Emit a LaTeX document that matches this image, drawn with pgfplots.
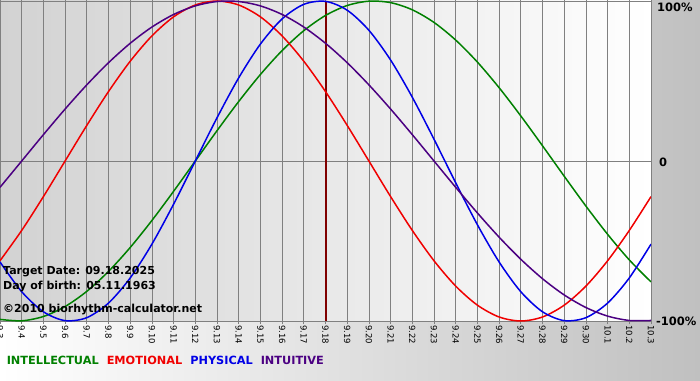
\documentclass[border=0pt]{standalone}
\usepackage{pgfplots}
\pgfplotsset{compat=1.18}
\usepackage{fontspec}
\setmainfont{DejaVu Sans}
\definecolor{cgreen}{RGB}{0,128,0}
\definecolor{cred}{RGB}{240,0,0}
\definecolor{cblue}{RGB}{0,0,230}
\definecolor{cpurple}{RGB}{75,0,130}
\definecolor{cdate}{RGB}{128,0,0}
\definecolor{gridgray}{RGB}{128,128,128}
\definecolor{bgR}{RGB}{192,192,192}
\definecolor{plotL}{RGB}{210,210,210}
\begin{document}
\begin{tikzpicture}
\useasboundingbox (0pt,0pt) rectangle (700pt,380pt);
\shade[left color=white, right color=bgR] (0pt,0pt) rectangle (700pt,380pt);
\shade[left color=plotL, right color=white] (0pt,59pt) rectangle (651pt,379pt);
\begin{axis}[
  at={(0pt,59pt)}, anchor=south west,
  scale only axis, width=651pt, height=320pt,
  xmin=0, xmax=30, ymin=-1, ymax=1,
  axis line style={gridgray, line width=0.75pt},
  xtick={0,...,30},
  xticklabels={9.3,9.4,9.5,9.6,9.7,9.8,9.9,9.10,9.11,9.12,9.13,9.14,9.15,9.16,9.17,9.18,9.19,9.20,9.21,9.22,9.23,9.24,9.25,9.26,9.27,9.28,9.29,9.30,10.1,10.2,10.3},
  xticklabel style={rotate=-90, anchor=west, font=\fontsize{8.5}{9}\selectfont, black, inner sep=1pt},
  xtick style={gridgray, line width=0.75pt},
  tick align=outside, major tick length=3pt,
  ytick={0}, yticklabels={}, ytick style={draw=none},
  xmajorgrids, ymajorgrids,
  grid style={gridgray, line width=0.75pt},
  legend image code/.code={},
  legend style={at={(-0.006,-0.125)}, anchor=west, draw=none, fill=none,
    legend columns=-1, font=\bfseries\fontsize{11.3}{13}\selectfont,
    nodes={inner sep=0.5pt},
    /tikz/every odd column/.append style={column sep=7pt}},
]
\addplot[cdate, line width=2pt, forget plot] coordinates {(15,-1) (15,1)};
\addplot[cgreen, line width=1.5pt, smooth, mark=none] coordinates {
(0,-0.9898) (1,-0.9989) (2,-0.9718) (3,-0.9096) (4,-0.8146) (5,-0.6901) (6,-0.5406) (7,-0.3717) (8,-0.1893) (9,0) (10,0.1893) (11,0.3717) (12,0.5406) (13,0.6901) (14,0.8146) (15,0.9096) (16,0.9718) (17,0.9989) (18,0.9898) (19,0.9450) (20,0.8660) (21,0.7557) (22,0.6182) (23,0.4582) (24,0.2817) (25,0.0951) (26,-0.0951) (27,-0.2817) (28,-0.4582) (29,-0.6182) (30,-0.7557)};
\addlegendentry{\textcolor{cgreen}{INTELLECTUAL}}
\addplot[cred, line width=1.5pt, smooth, mark=none] coordinates {
(0,-0.6235) (1,-0.4339) (2,-0.2225) (3,0) (4,0.2225) (5,0.4339) (6,0.6235) (7,0.7818) (8,0.9010) (9,0.9749) (10,1) (11,0.9749) (12,0.9010) (13,0.7818) (14,0.6235) (15,0.4339) (16,0.2225) (17,0) (18,-0.2225) (19,-0.4339) (20,-0.6235) (21,-0.7818) (22,-0.9010) (23,-0.9749) (24,-1) (25,-0.9749) (26,-0.9010) (27,-0.7818) (28,-0.6235) (29,-0.4339) (30,-0.2225)};
\addlegendentry{\textcolor{cred}{EMOTIONAL}}
\addplot[cblue, line width=1.5pt, smooth, mark=none] coordinates {
(0,-0.6310) (1,-0.8170) (2,-0.9423) (3,-0.9977) (4,-0.9791) (5,-0.8879) (6,-0.7308) (7,-0.5196) (8,-0.2698) (9,0) (10,0.2698) (11,0.5196) (12,0.7308) (13,0.8879) (14,0.9791) (15,0.9977) (16,0.9423) (17,0.8170) (18,0.6310) (19,0.3984) (20,0.1362) (21,-0.1362) (22,-0.3984) (23,-0.6310) (24,-0.8170) (25,-0.9423) (26,-0.9977) (27,-0.9791) (28,-0.8879) (29,-0.7308) (30,-0.5196)};
\addlegendentry{\textcolor{cblue}{PHYSICAL}}
\addplot[cpurple, line width=1.5pt, smooth, mark=none] coordinates {
(0,-0.1646) (1,0) (2,0.1646) (3,0.3247) (4,0.4759) (5,0.6142) (6,0.7357) (7,0.8372) (8,0.9158) (9,0.9694) (10,0.9966) (11,0.9966) (12,0.9694) (13,0.9158) (14,0.8372) (15,0.7357) (16,0.6142) (17,0.4759) (18,0.3247) (19,0.1646) (20,0) (21,-0.1646) (22,-0.3247) (23,-0.4759) (24,-0.6142) (25,-0.7357) (26,-0.8372) (27,-0.9158) (28,-0.9694) (29,-0.9966) (30,-0.9966)};
\addlegendentry{\textcolor{cpurple}{INTUITIVE}}
\end{axis}
\begin{scope}[every node/.style={anchor=west, inner sep=0pt, font=\bfseries\fontsize{11}{12}\selectfont, text=black}]
\node at (3pt,108pt) {Target Date: 09.18.2025};
\node at (3pt,93pt) {Day of birth: 05.11.1963};
\node at (3pt,70pt) {\textcopyright 2010 biorhythm-calculator.net};
\node[font=\bfseries\fontsize{11.5}{12}\selectfont] at (657pt,373pt) {100\%};
\node[font=\bfseries\fontsize{11.5}{12}\selectfont] at (659pt,218pt) {0};
\node[font=\bfseries\fontsize{11.5}{12}\selectfont] at (656pt,59pt) {-100\%};
\end{scope}
\end{tikzpicture}
\end{document}
